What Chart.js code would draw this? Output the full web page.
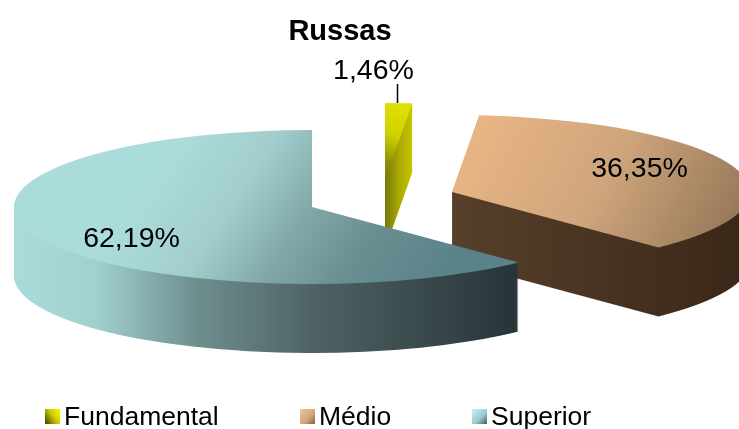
<!DOCTYPE html>
<html>
<head>
<meta charset="utf-8">
<title>Russas</title>
<script src="https://cdn.jsdelivr.net/npm/chart.js@4"></script>
<style>
  html, body { margin: 0; padding: 0; background: #fff; }
  canvas { display: block; filter: blur(0.35px); }
</style>
</head>
<body>
<canvas id="grafico" width="739" height="429"></canvas>
<script>
const categorias = ['Fundamental', 'Médio', 'Superior'];
const valores = [1.46, 36.35, 62.19];
const titulo = 'Russas';

// fake 3D pie: size of the flattened ellipse and height of the walls
const RAIO_X = 298, RAIO_Y = 77, ALTURA = 69;
const FONTE = 'Liberation Sans, Arial, sans-serif';

// where each exploded slice has its apex, and where its label goes
const centros = [[385, 180], [452, 192], [312, 207]];
const posRotulos = [[373.5, 71.5], [639.5, 169], [131.5, 239]];
const posLegenda = [45, 300, 472];

function grad(ctx, x0, y0, x1, y1, paradas) {
    let g = ctx.createLinearGradient(x0, y0, x1, y1);
    paradas.forEach(p => g.addColorStop(p[0], p[1]));
    return g;
}

function corTopo(ctx, i) {
    if (i === 0) return grad(ctx, 412, 103, 385, 180, [[0, '#e2e200'], [0.45, '#d0d000'], [0.8, '#8c8c08'], [1, '#7a7a10']]);
    if (i === 1) return grad(ctx, 480, 130, 715, 255, [[0, '#e8b484'], [0.5, '#cfa57c'], [1, '#97795a']]);
    return grad(ctx, 130, 150, 406, 330, [[0.1, '#abdcdc'], [0.35, '#a2cdcd'], [0.55, '#82a9aa'], [0.75, '#6a8f91'], [1, '#5a8389']]);
}

function corParede(ctx, i) {
    if (i === 0) return grad(ctx, 385, 0, 412, 0, [[0, '#77770f'], [0.5, '#a8a800'], [1, '#c6c600']]);
    if (i === 1) return grad(ctx, 453, 0, 739, 0, [[0, '#57402a'], [0.6, '#463120'], [1, '#3a2818']]);
    return grad(ctx, 14, 0, 519, 0, [[0, '#aadbda'], [0.16, '#a2d0d0'], [0.36, '#6f8f8f'], [0.6, '#4e6163'], [1, '#263437']]);
}

// path of one slice, angles and radius come from the arc element of Chart.js
function caminhoFatia(ctx, arco, cx, cy) {
    let { startAngle, endAngle, outerRadius } = arco.getProps(['startAngle', 'endAngle', 'outerRadius']);
    ctx.save();
    ctx.translate(cx, cy);
    ctx.scale(RAIO_X / outerRadius, RAIO_Y / outerRadius);
    ctx.beginPath();
    ctx.moveTo(0, 0);
    ctx.arc(0, 0, outerRadius, startAngle, endAngle);
    ctx.closePath();
    ctx.restore();
}

const pizza3d = {
    id: 'pizza3d',
    beforeDatasetsDraw(chart) {
        let ctx = chart.ctx;
        let arcos = chart.getDatasetMeta(0).data;
        arcos.forEach((arco, i) => {
            let [cx, cy] = centros[i];
            // walls: the slice pushed down pixel by pixel
            ctx.fillStyle = corParede(ctx, i);
            for (let d = ALTURA; d > 0; d--) {
                caminhoFatia(ctx, arco, cx, cy + d);
                ctx.fill();
            }
            caminhoFatia(ctx, arco, cx, cy);
            ctx.fillStyle = corTopo(ctx, i);
            ctx.fill();
        });
        return false; // the flat pie is not drawn
    },
    afterDraw(chart) {
        let ctx = chart.ctx;
        ctx.save();

        // leader line of the small slice
        ctx.strokeStyle = '#000';
        ctx.lineWidth = 1.5;
        ctx.beginPath();
        ctx.moveTo(397.5, 84);
        ctx.lineTo(397.5, 103);
        ctx.stroke();

        ctx.fillStyle = '#000';
        ctx.font = '28.5px ' + FONTE;
        ctx.textAlign = 'center';
        ctx.textBaseline = 'middle';
        valores.forEach((v, i) => {
            ctx.fillText(v.toFixed(2).replace('.', ',') + '%', posRotulos[i][0], posRotulos[i][1]);
        });

        // legend
        let swatches = [
            [[0, 15, 15, 5], [[0, '#3c3c00'], [0.6, '#c8c800'], [1, '#eeee00']]],
            [[0, 0, 15, 15], [[0, '#f4c698'], [0.6, '#d0a47a'], [1, '#7d6044']]],
            [[0, 0, 15, 15], [[0, '#c4f4f4'], [0.6, '#98c8c8'], [1, '#3f5a5c']]]
        ];
        ctx.font = '26.5px ' + FONTE;
        ctx.textAlign = 'left';
        categorias.forEach((nome, i) => {
            let x = posLegenda[i];
            let [v, paradas] = swatches[i];
            ctx.fillStyle = grad(ctx, x + v[0], 409 + v[1], x + v[2], 409 + v[3], paradas);
            ctx.fillRect(x, 409, 15, 15);
            ctx.fillStyle = '#000';
            ctx.fillText(nome, x + 19, 418);
        });
        ctx.restore();
    }
};

new Chart(document.getElementById('grafico'), {
    type: 'pie',
    data: {
        labels: categorias,
        datasets: [{ data: valores, borderWidth: 0 }]
    },
    options: {
        responsive: false,
        animation: false,
        layout: { padding: { right: 59 } },
        plugins: {
            legend: { display: false },
            tooltip: { enabled: false },
            title: {
                display: true,
                text: titulo,
                color: '#000',
                font: { family: FONTE, size: 29, weight: 'bold' },
                padding: { top: 15, bottom: 10 }
            }
        }
    },
    plugins: [pizza3d]
});
</script>
</body>
</html>
